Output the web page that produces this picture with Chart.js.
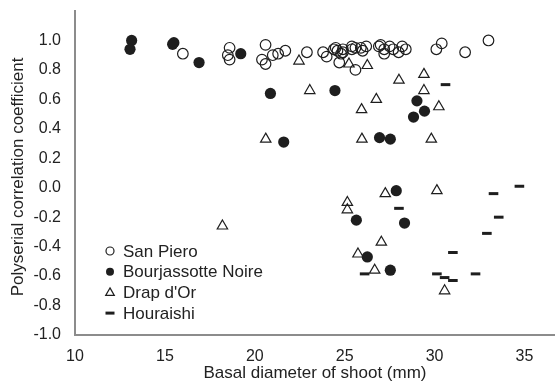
<!DOCTYPE html>
<html lang="en">
<head>
    <meta charset="UTF-8">
    <title>Polyserial correlation vs basal diameter</title>
    <script src="https://cdn.jsdelivr.net/npm/chart.js@4"></script>
    <style>
        html, body { margin: 0; padding: 0; background: #fff; }
        #wrap { width: 555px; height: 387px; }
    </style>
</head>
<body>
    <div id="wrap"><canvas id="corrChart"></canvas></div>
    <script>
        // values
        const sanPieroX = [16.0, 18.6, 18.5, 18.6, 20.6, 20.4, 20.6, 21.0, 21.3, 21.7, 22.9, 23.8, 24.0, 24.4, 24.5, 24.6, 24.9, 24.9, 24.8, 25.4,
                           25.4, 25.6, 25.9, 26.0, 26.2, 26.9, 27.0, 27.2, 27.2, 27.5, 27.7, 28.0, 28.2, 28.4, 24.7, 25.6, 30.1, 30.4, 31.7, 33.0];
        const sanPieroY = [0.91, 0.95, 0.90, 0.87, 0.97, 0.87, 0.84, 0.90, 0.91, 0.93, 0.92, 0.92, 0.89, 0.94, 0.95, 0.93, 0.92, 0.94, 0.91, 0.96,
                           0.94, 0.95, 0.95, 0.93, 0.96, 0.96, 0.97, 0.94, 0.91, 0.96, 0.94, 0.92, 0.96, 0.94, 0.85, 0.80, 0.94, 0.98, 0.92, 1.00];

        const bourjX = [13.15, 13.06, 15.5, 15.43, 16.9, 19.22, 20.87, 21.61, 24.46, 26.94, 27.54, 29.02, 29.44, 28.83, 27.87, 25.65, 28.33, 26.26, 27.54];
        const bourjY = [1.0, 0.94, 0.985, 0.974, 0.85, 0.91, 0.64, 0.31, 0.66, 0.34, 0.33, 0.59, 0.52, 0.48, -0.02, -0.22, -0.24, -0.47, -0.56];

        const drapX = [22.46, 23.06, 25.24, 26.26, 28.02, 29.41, 29.41, 26.76, 25.94, 30.24, 20.61, 25.96, 29.82, 27.26, 30.13, 25.15, 25.15, 18.2, 27.04, 25.74, 26.67, 30.56];
        const drapY = [0.86, 0.66, 0.84, 0.83, 0.73, 0.77, 0.66, 0.60, 0.53, 0.55, 0.33, 0.33, 0.33, -0.04, -0.02, -0.10, -0.15, -0.26, -0.37, -0.45, -0.56, -0.70];

        const houraishiX = [30.61, 28.02, 33.28, 33.57, 32.91, 31.02, 32.28, 30.13, 30.56, 31.02, 26.11, 34.72];
        const houraishiY = [0.70, -0.14, -0.04, -0.20, -0.31, -0.44, -0.585, -0.585, -0.61, -0.63, -0.585, 0.01];

        const seriesNames = ['San Piero', 'Bourjassotte Noire', "Drap d'Or", 'Houraishi'];
        const xTicks = [10, 15, 20, 25, 30, 35];

        const ink = '#1e1e1e';
        const fontFamily = "'Liberation Sans', Arial, sans-serif";

        function zip(xs, ys) {
            return xs.map((x, i) => ({ x: x, y: ys[i] }));
        }

        // legend sits inside the plot, bottom-left
        const innerLegend = {
            id: 'innerLegend',
            afterDraw(chart) {
                const ctx = chart.ctx;
                const area = chart.chartArea;
                const mx = area.left + 35;
                const tx = area.left + 48;
                ctx.save();
                ctx.font = '17px ' + fontFamily;
                ctx.textBaseline = 'middle';
                chart.data.datasets.forEach((ds, i) => {
                    const y = area.bottom - 84 + i * 20.7;
                    ctx.strokeStyle = ink;
                    ctx.fillStyle = ink;
                    ctx.lineWidth = 1.2;
                    ctx.beginPath();
                    if (ds.pointStyle === 'circle') {
                        ctx.arc(mx, y, 4, 0, Math.PI * 2);
                        if (ds.backgroundColor === ink) ctx.fill(); else ctx.stroke();
                    } else if (ds.pointStyle === 'triangle') {
                        ctx.moveTo(mx, y - 4.5);
                        ctx.lineTo(mx + 4.3, y + 3);
                        ctx.lineTo(mx - 4.3, y + 3);
                        ctx.closePath();
                        ctx.stroke();
                    } else {
                        ctx.lineWidth = 3;
                        ctx.moveTo(mx - 4.5, y);
                        ctx.lineTo(mx + 4.5, y);
                        ctx.stroke();
                    }
                    ctx.fillStyle = '#222';
                    ctx.fillText(ds.label, tx, y + 1);
                });
                ctx.restore();
            }
        };

        // axis titles drawn by hand
        const axisTitles = {
            id: 'axisTitles',
            afterDraw(chart) {
                const ctx = chart.ctx;
                const area = chart.chartArea;
                ctx.save();
                ctx.font = '17px ' + fontFamily;
                ctx.fillStyle = '#222';
                ctx.textAlign = 'center';
                ctx.textBaseline = 'middle';
                ctx.fillText('Basal diameter of shoot (mm)', (area.left + area.right) / 2, area.bottom + 38);
                ctx.translate(18, area.top + 166);
                ctx.rotate(-Math.PI / 2);
                ctx.fillText('Polyserial correlation coefficient', 0, 0);
                ctx.restore();
            }
        };

        const ctx = document.getElementById('corrChart').getContext('2d');
        new Chart(ctx, {
            type: 'scatter',
            data: {
                datasets: [
                    {
                        label: seriesNames[0],
                        data: zip(sanPieroX, sanPieroY),
                        pointStyle: 'circle',
                        pointRadius: 5.3,
                        borderWidth: 1.2,
                        borderColor: ink,
                        backgroundColor: 'rgba(0,0,0,0)'
                    },
                    {
                        label: seriesNames[1],
                        data: zip(bourjX, bourjY),
                        pointStyle: 'circle',
                        pointRadius: 5.6,
                        borderWidth: 0,
                        borderColor: ink,
                        backgroundColor: ink
                    },
                    {
                        label: seriesNames[2],
                        data: zip(drapX, drapY),
                        pointStyle: 'triangle',
                        pointRadius: 6,
                        borderWidth: 1.2,
                        borderColor: ink,
                        backgroundColor: 'rgba(0,0,0,0)'
                    },
                    {
                        label: seriesNames[3],
                        data: zip(houraishiX, houraishiY),
                        pointStyle: 'line',
                        pointRadius: 4.8,
                        borderWidth: 3,
                        borderColor: ink,
                        backgroundColor: ink
                    }
                ]
            },
            options: {
                responsive: true,
                maintainAspectRatio: false,
                animation: false,
                layout: { autoPadding: false, padding: { top: 11, right: 0, left: 0, bottom: 0 } },
                plugins: {
                    legend: { display: false },
                    tooltip: { enabled: false }
                },
                scales: {
                    x: {
                        type: 'linear',
                        min: 10,
                        max: 36.7,
                        afterBuildTicks: s => { s.ticks = xTicks.map(v => ({ value: v })); },
                        afterFit: s => { s.height = 52; s.paddingLeft = 0; s.paddingRight = 0; },
                        grid: { display: false, drawTicks: false },
                        border: { display: true, color: '#8c8c8c', width: 2 },
                        ticks: {
                            padding: 12,
                            color: '#222',
                            font: { family: fontFamily, size: 16 },
                            maxRotation: 0
                        }
                    },
                    y: {
                        min: -1.0,
                        max: 1.2,
                        afterFit: s => { s.width = 75; s.paddingTop = 0; s.paddingBottom = 0; },
                        grid: { display: false, drawTicks: false },
                        border: { display: true, color: '#8c8c8c', width: 2 },
                        ticks: {
                            stepSize: 0.2,
                            padding: 14,
                            color: '#222',
                            font: { family: fontFamily, size: 16 },
                            callback: v => (Math.abs(v - 1.2) < 1e-6 ? '' : v.toFixed(1))
                        }
                    }
                }
            },
            plugins: [innerLegend, axisTitles]
        });
    </script>
</body>
</html>
